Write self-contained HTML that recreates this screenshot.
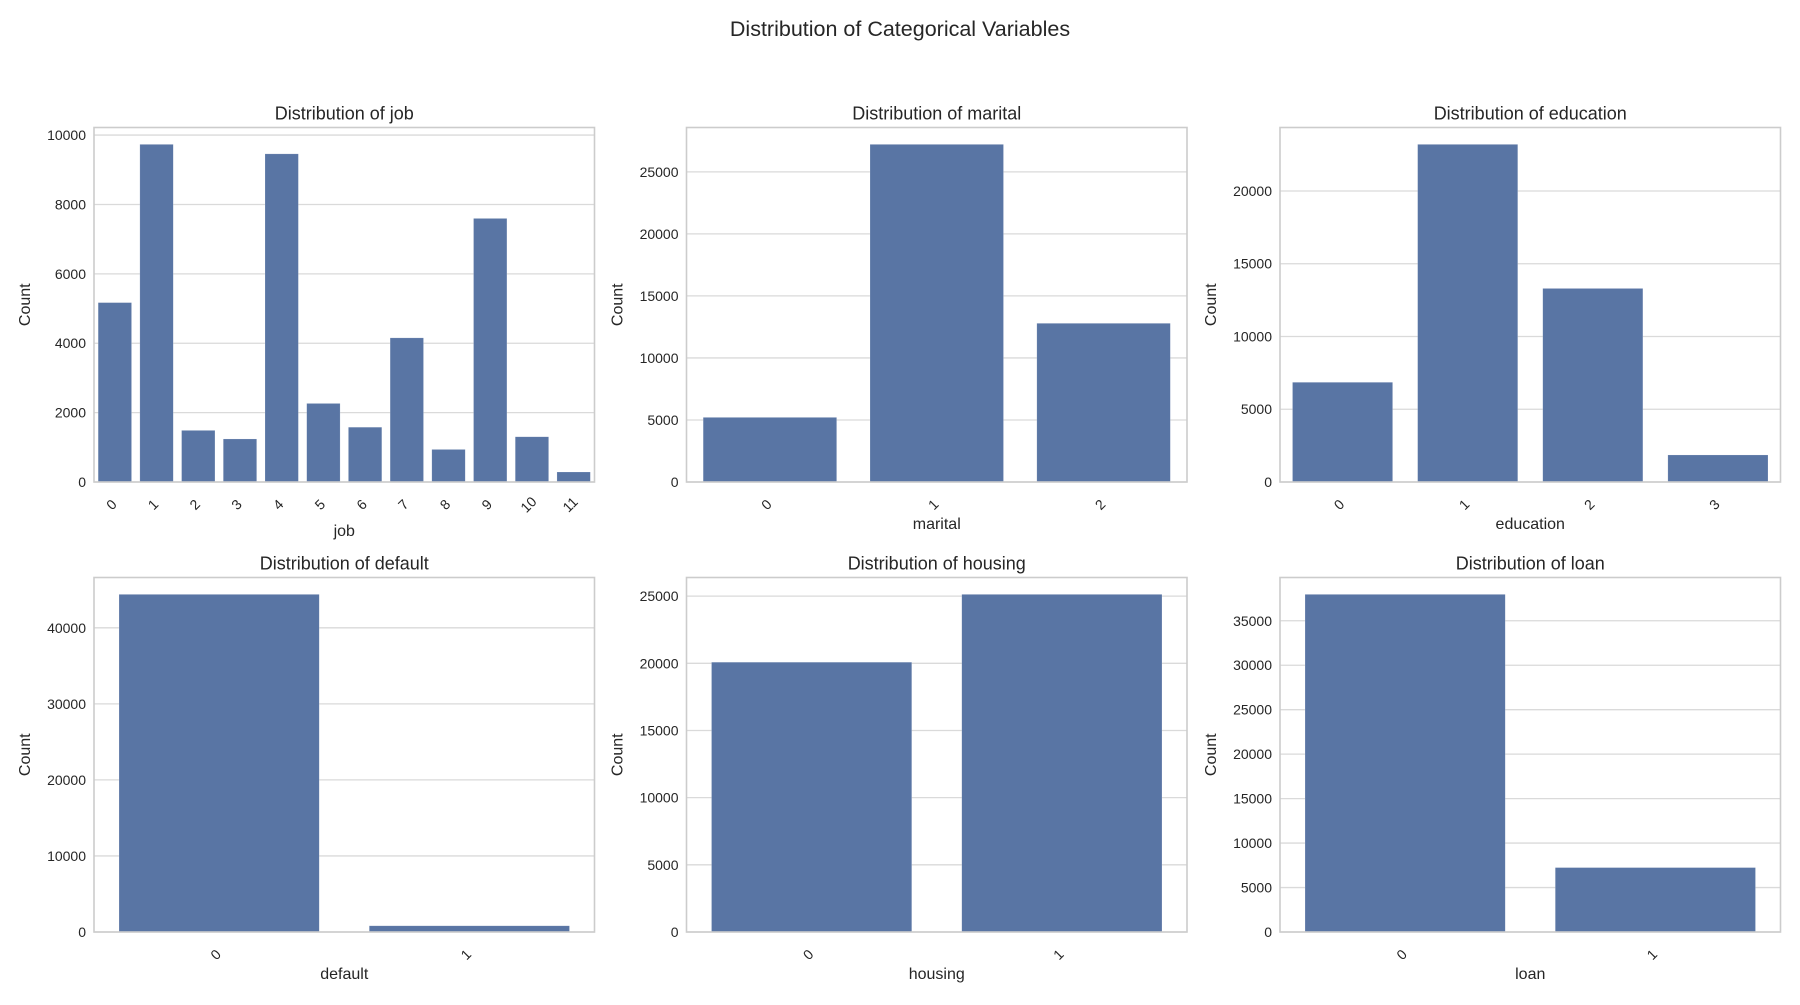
<!DOCTYPE html>
<html><head><meta charset="utf-8"><style>
html,body{margin:0;padding:0;background:#fff;}
svg text{font-family:"Liberation Sans",Arial,sans-serif;fill:#262626;}
</style></head><body>
<svg id="fig" width="1800" height="1000" viewBox="0 0 1800 1000" xmlns="http://www.w3.org/2000/svg">
<text x="900" y="36" font-size="21.5" text-anchor="middle">Distribution of Categorical Variables</text>
</svg>
<script>
const jobCats=["0","1","2","3","4","5","6","7","8","9","10","11"];
const jobVals=[5171,9732,1487,1240,9458,2264,1579,4154,938,7597,1303,288];
const maritalCats=["0","1","2"];
const maritalVals=[5207,27214,12790];
const educationCats=["0","1","2","3"];
const educationVals=[6851,23202,13301,1857];
const defaultCats=["0","1"];
const defaultVals=[44396,815];
const housingCats=["0","1"];
const housingVals=[20081,25130];
const loanCats=["0","1"];
const loanVals=[37967,7244];
const jobTicks=[0,2000,4000,6000,8000,10000];
const maritalTicks=[0,5000,10000,15000,20000,25000];
const educationTicks=[0,5000,10000,15000,20000];
const defaultTicks=[0,10000,20000,30000,40000];
const housingTicks=[0,5000,10000,15000,20000,25000];
const loanTicks=[0,5000,10000,15000,20000,25000,30000,35000];

const NS="http://www.w3.org/2000/svg";
const svg=document.getElementById('fig');
function mk(tag,attrs,parent){const e=document.createElementNS(NS,tag);for(const k in attrs)e.setAttribute(k,attrs[k]);(parent||svg).appendChild(e);return e;}

const panels=[
 {name:"job",cats:jobCats,vals:jobVals,ticks:jobTicks,x:94,y:127.5},
 {name:"marital",cats:maritalCats,vals:maritalVals,ticks:maritalTicks,x:686.5,y:127.5},
 {name:"education",cats:educationCats,vals:educationVals,ticks:educationTicks,x:1280,y:127.5},
 {name:"default",cats:defaultCats,vals:defaultVals,ticks:defaultTicks,x:94,y:577.5},
 {name:"housing",cats:housingCats,vals:housingVals,ticks:housingTicks,x:686.5,y:577.5},
 {name:"loan",cats:loanCats,vals:loanVals,ticks:loanTicks,x:1280,y:577.5}
];
const W=500.5,H=354.5;
panels.forEach(p=>{
  const g=mk('g',{});
  
  
  const ymax=Math.max(...p.vals)*1.05;
  const ys=v=>p.y+H-v/ymax*H;
  const n=p.cats.length;
  const xs=i=>p.x+(i+0.5)/n*W;
  p.ticks.forEach(t=>{
    const gl=mk('line',{x1:p.x,x2:p.x+W,y1:ys(t),y2:ys(t),stroke:'#dadada','stroke-width':1.3},g);
    
    
    const tl=mk('text',{x:p.x-8,y:ys(t)+5,'font-size':14,'text-anchor':'end'},g);
    tl.textContent=String(t);
    
    
  });
  p.vals.forEach((v,i)=>{
    const bw=0.8*W/n;
    const b=mk('rect',{x:xs(i)-bw/2,y:ys(v),width:bw,height:ys(0)-ys(v),fill:'#5975a4',stroke:'#ffffff','stroke-width':0.5,'stroke-opacity':0.3},g);
    
    
    const xl=mk('text',{x:0,y:0,'font-size':14,'text-anchor':'middle',transform:`translate(${xs(i)},${p.y+H+26}) rotate(-45)`},g);
    xl.textContent=p.cats[i];
    
    
  });
  const fr=mk('rect',{x:p.x,y:p.y,width:W,height:H,fill:'none',stroke:'#cccccc','stroke-width':1.6},g);
  
  
  const t=mk('text',{x:p.x+W/2,y:p.y-8,'font-size':18,'text-anchor':'middle'},g);
  t.textContent='Distribution of '+p.name;
  
  
  const xlab=mk('text',{x:p.x+W/2,y:p.y+H+(p.name==='job'?54:47),'font-size':16,'text-anchor':'middle'},g);
  xlab.textContent=p.name;
  
  
  const ylab=mk('text',{x:0,y:0,'font-size':16,'text-anchor':'middle',transform:`translate(${p.x-64},${p.y+H/2}) rotate(-90)`},g);
  ylab.textContent='Count';
  
  
});
</script>
</body></html>
